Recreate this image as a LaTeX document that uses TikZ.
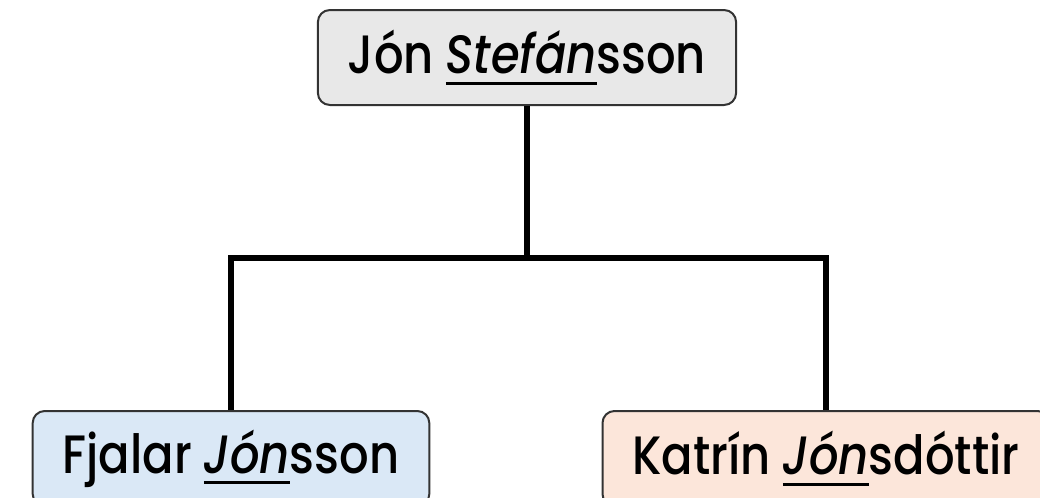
\documentclass[tikz,border=0pt]{standalone}
\usepackage{fontspec}
\setmainfont{Poppins}[UprightFont=* Medium, ItalicFont=* Medium Italic, FakeStretch=0.86]
\usetikzlibrary{positioning}

\definecolor{fillgray}{HTML}{E8E8E8}
\definecolor{fillblue}{HTML}{DAE8F6}
\definecolor{fillpeach}{HTML}{FCE6DA}
\definecolor{edgegray}{HTML}{333333}

% underlined part of the name
\newcommand\namepart[1]{\setbox0\hbox{\textit{#1}}\rlap{\rule[-5.5pt]{\wd0}{1.4pt}}\box0}

\tikzset{
  person/.style={draw=edgegray, line width=1pt, rounded corners=6pt,
    minimum height=47.5pt, inner xsep=15pt, font=\fontsize{27}{30}\selectfont},
  link/.style={line width=3pt, black}
}

\begin{document}
\begin{tikzpicture}[x=0.5pt, y=-0.5pt]
    \useasboundingbox (0,0) rectangle (1040,498);
    \node[person, fill=fillgray] (jon) at (527,57.5) {Jón \namepart{Stefán}sson};
    \node[person, fill=fillblue, anchor=north] (fjalar) at (231,410) {Fjalar \namepart{Jón}sson};
    \node[person, fill=fillpeach, anchor=north] (katrin) at (826,410) {Katrín \namepart{Jón}sdóttir};
    \coordinate (bar) at (527,258);

    \draw[link] (jon.south) -- (jon.south |- bar);
    \draw[link] (fjalar.north) |- (katrin.north |- bar) -- (katrin.north);
\end{tikzpicture}
\end{document}
